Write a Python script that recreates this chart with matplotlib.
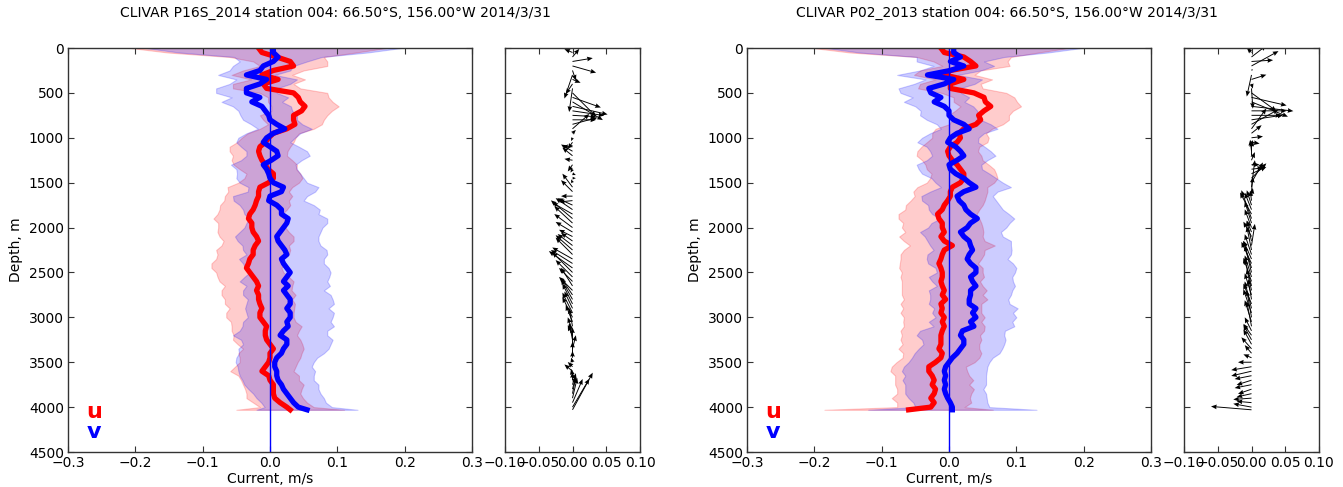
import numpy as np
import matplotlib
matplotlib.use("Agg")
import matplotlib.pyplot as plt

# ---------------- data ----------------
depth = list(range(0, 4001, 50)) + [4030]

titles = ["CLIVAR P16S_2014 station 004: 66.50°S, 156.00°W 2014/3/31",
          "CLIVAR P02_2013 station 004: 66.50°S, 156.00°W 2014/3/31"]

p16_u = [-0.017, -0.012, 0.010, 0.030, 0.035, 0.005, -0.012, 0.012, -0.010, -0.005,
         0.035, 0.042, 0.045, 0.052, 0.047, 0.035, 0.035, 0.037, 0.025, 0.005,
         -0.002, -0.007, -0.015, -0.017, -0.015, -0.012, -0.007, -0.003, 0.005, 0.005,
         -0.002, -0.015, -0.017, -0.017, -0.020, -0.022, -0.025, -0.030, -0.032, -0.027,
         -0.027, -0.025, -0.020, -0.017, -0.022, -0.025, -0.025, -0.030, -0.032, -0.035,
         -0.030, -0.025, -0.020, -0.017, -0.020, -0.017, -0.017, -0.015, -0.012, -0.015,
         -0.015, -0.010, -0.005, -0.007, -0.007, -0.005, 0.000, 0.005, 0.000, 0.000,
         -0.002, -0.007, -0.012, -0.002, 0.000, 0.005, 0.005, 0.005, 0.007, 0.015,
         0.025, 0.030]
p16_v = [0.005, 0.005, 0.012, 0.005, -0.010, -0.015, -0.035, -0.005, -0.015, -0.035,
         -0.035, -0.015, -0.027, -0.012, -0.007, -0.002, 0.000, 0.010, 0.022, 0.005,
         -0.005, -0.010, 0.000, 0.010, 0.012, 0.002, -0.010, -0.005, -0.002, 0.000,
         0.005, 0.020, 0.017, 0.000, -0.002, 0.010, 0.017, 0.017, 0.027, 0.025,
         0.020, 0.015, 0.010, 0.012, 0.017, 0.022, 0.025, 0.017, 0.020, 0.025,
         0.030, 0.025, 0.020, 0.027, 0.020, 0.025, 0.030, 0.030, 0.025, 0.030,
         0.030, 0.025, 0.027, 0.020, 0.015, 0.025, 0.025, 0.020, 0.017, 0.010,
         0.007, 0.007, 0.010, 0.010, 0.012, 0.017, 0.020, 0.025, 0.030, 0.035,
         0.042, 0.055]
p16_u_err = [0.190, 0.140, 0.070, 0.055, 0.050, 0.045, 0.045, 0.040, 0.045, 0.050,
             0.050, 0.045, 0.048, 0.050, 0.045, 0.050, 0.045, 0.040, 0.040, 0.038,
             0.040, 0.042, 0.045, 0.043, 0.040, 0.045, 0.047, 0.042, 0.040, 0.043,
             0.045, 0.048, 0.045, 0.050, 0.048, 0.052, 0.050, 0.048, 0.052, 0.050,
             0.050, 0.053, 0.055, 0.052, 0.050, 0.055, 0.053, 0.050, 0.055, 0.052,
             0.050, 0.053, 0.055, 0.050, 0.052, 0.055, 0.050, 0.052, 0.048, 0.050,
             0.050, 0.048, 0.052, 0.050, 0.047, 0.050, 0.048, 0.045, 0.047, 0.045,
             0.043, 0.045, 0.047, 0.045, 0.043, 0.045, 0.042, 0.040, 0.042, 0.040,
             0.040, 0.080]
p16_v_err = [0.190, 0.140, 0.065, 0.050, 0.045, 0.045, 0.042, 0.045, 0.045, 0.045,
             0.045, 0.042, 0.045, 0.043, 0.040, 0.042, 0.040, 0.038, 0.040, 0.040,
             0.042, 0.040, 0.043, 0.045, 0.047, 0.045, 0.048, 0.045, 0.047, 0.050,
             0.050, 0.052, 0.050, 0.055, 0.052, 0.055, 0.057, 0.055, 0.058, 0.060,
             0.058, 0.060, 0.062, 0.060, 0.058, 0.062, 0.060, 0.063, 0.060, 0.062,
             0.060, 0.063, 0.065, 0.062, 0.060, 0.065, 0.063, 0.065, 0.062, 0.065,
             0.063, 0.065, 0.068, 0.065, 0.070, 0.068, 0.065, 0.067, 0.063, 0.060,
             0.058, 0.055, 0.057, 0.055, 0.053, 0.055, 0.052, 0.050, 0.050, 0.048,
             0.050, 0.075]

p02_u = [-0.012, -0.007, 0.022, 0.032, 0.040, 0.002, -0.007, 0.022, 0.002, 0.002,
         0.037, 0.052, 0.054, 0.062, 0.052, 0.044, 0.047, 0.040, 0.022, 0.015,
         0.017, 0.012, 0.002, -0.002, 0.000, 0.005, 0.012, 0.017, 0.022, 0.022,
         0.017, 0.005, 0.002, 0.002, -0.002, -0.007, -0.010, -0.017, -0.015, -0.010,
         -0.010, -0.007, -0.012, -0.007, 0.005, -0.007, -0.010, -0.012, -0.015, -0.012,
         -0.010, -0.010, -0.012, -0.010, -0.007, -0.010, -0.005, -0.012, -0.010, -0.012,
         -0.007, -0.010, -0.007, -0.010, -0.012, -0.012, -0.012, -0.015, -0.010, -0.012,
         -0.020, -0.030, -0.030, -0.025, -0.022, -0.025, -0.020, -0.022, -0.027, -0.022,
         -0.027, -0.060]
p02_v = [0.007, 0.007, 0.017, 0.002, 0.022, 0.002, -0.032, 0.007, -0.007, -0.030,
         -0.027, -0.012, -0.022, -0.007, 0.000, 0.000, 0.007, 0.022, 0.030, 0.012,
         0.002, -0.002, 0.010, 0.017, 0.022, 0.012, 0.000, 0.002, 0.010, 0.022,
         0.030, 0.040, 0.022, 0.012, 0.015, 0.022, 0.025, 0.032, 0.042, 0.032,
         0.027, 0.017, 0.022, 0.030, 0.032, 0.035, 0.030, 0.027, 0.032, 0.040,
         0.040, 0.032, 0.035, 0.040, 0.032, 0.032, 0.030, 0.030, 0.040, 0.035,
         0.040, 0.032, 0.037, 0.020, 0.017, 0.022, 0.022, 0.017, 0.012, 0.005,
         0.000, -0.005, -0.007, -0.005, -0.007, -0.005, -0.007, -0.005, -0.002, 0.002,
         0.005, 0.005]
p02_u_err = [0.190, 0.140, 0.070, 0.055, 0.050, 0.045, 0.045, 0.042, 0.045, 0.048,
             0.048, 0.045, 0.047, 0.045, 0.043, 0.045, 0.042, 0.040, 0.042, 0.040,
             0.042, 0.045, 0.043, 0.045, 0.048, 0.045, 0.047, 0.050, 0.048, 0.050,
             0.050, 0.052, 0.055, 0.053, 0.055, 0.057, 0.055, 0.058, 0.060, 0.058,
             0.060, 0.058, 0.062, 0.060, 0.063, 0.060, 0.062, 0.060, 0.058, 0.062,
             0.060, 0.062, 0.058, 0.060, 0.063, 0.060, 0.062, 0.060, 0.058, 0.060,
             0.060, 0.058, 0.060, 0.062, 0.058, 0.060, 0.057, 0.060, 0.058, 0.057,
             0.058, 0.055, 0.057, 0.055, 0.058, 0.055, 0.057, 0.055, 0.058, 0.055,
             0.050, 0.125]
p02_v_err = [0.190, 0.140, 0.065, 0.050, 0.045, 0.045, 0.045, 0.042, 0.045, 0.045,
             0.045, 0.042, 0.045, 0.043, 0.042, 0.043, 0.040, 0.040, 0.042, 0.040,
             0.042, 0.045, 0.043, 0.045, 0.047, 0.045, 0.048, 0.047, 0.050, 0.048,
             0.050, 0.052, 0.050, 0.053, 0.055, 0.053, 0.055, 0.057, 0.055, 0.058,
             0.058, 0.060, 0.058, 0.062, 0.060, 0.058, 0.062, 0.060, 0.063, 0.060,
             0.058, 0.062, 0.060, 0.058, 0.062, 0.060, 0.058, 0.060, 0.062, 0.060,
             0.060, 0.062, 0.060, 0.063, 0.065, 0.062, 0.060, 0.062, 0.063, 0.060,
             0.060, 0.062, 0.063, 0.060, 0.062, 0.060, 0.058, 0.060, 0.058, 0.055,
             0.055, 0.125]

profiles = [(p16_u, p16_v, p16_u_err, p16_v_err),
            (p02_u, p02_v, p02_u_err, p02_v_err)]

main_xticks = [-0.3, -0.2, -0.1, 0.0, 0.1, 0.2, 0.3]
side_xticks = [-0.10, -0.05, 0.00, 0.05, 0.10]
depth_ticks = list(range(0, 4501, 500))

# ---------------- figure ----------------
plt.rcParams['font.family'] = ['DejaVu Sans']
plt.rcParams['font.size'] = 10
W, H = 1343, 487
fig = plt.figure(figsize=(W / 100, H / 100), dpi=100)

spine_col = '#333333'


def style(ax):
    ax.tick_params(direction='in', top=True, right=True, length=4,
                   width=0.8, color=spine_col, labelsize=10, pad=3)
    for s in ax.spines.values():
        s.set_color(spine_col)
        s.set_linewidth(1.0)


main_x0 = [68, 747]
side_x0 = [505, 1184]
title_x = [0.25, 0.75]
y0 = (H - 452) / H
hgt = 404 / H

for k in range(2):
    u, v, ue, ve = [np.asarray(a) for a in profiles[k]]
    z = np.asarray(depth)
    ax = fig.add_axes([main_x0[k] / W, y0, 404 / W, hgt])
    ax.fill_betweenx(z, u - ue, u + ue, color='red', alpha=0.2, lw=0.8)
    ax.fill_betweenx(z, v - ve, v + ve, color='blue', alpha=0.2, lw=0.8)
    ax.plot(u, z, color='red', lw=3.8)
    ax.plot(v, z, color='blue', lw=3.8)
    ax.axvline(0, color='blue', lw=1)
    ax.set_xlim(-0.3, 0.3)
    ax.set_ylim(4500, 0)
    ax.set_xticks(main_xticks)
    ax.set_yticks(depth_ticks)
    ax.set_xlabel('Current, m/s', labelpad=1)
    ax.set_ylabel('Depth, m', labelpad=4)
    ax.text(0.045, 0.085, 'u', color='red', fontsize=16, fontweight='bold',
            transform=ax.transAxes, ha='left', va='baseline')
    ax.text(0.045, 0.035, 'v', color='blue', fontsize=16, fontweight='bold',
            transform=ax.transAxes, ha='left', va='baseline')
    style(ax)

    fig.text(title_x[k], 1 - 13 / H, titles[k], fontsize=10,
             ha='center', va='center')

    sx = fig.add_axes([side_x0[k] / W, y0, 135 / W, hgt])
    sx.quiver(np.zeros_like(u), z, u, v, angles='uv', scale_units='x', scale=1,
              width=0.007, headwidth=5, headlength=6, headaxislength=5.5,
              color='black')
    sx.set_xlim(-0.1, 0.1)
    sx.set_ylim(4500, 0)
    sx.set_xticks(side_xticks)
    sx.set_yticks(depth_ticks)
    sx.set_yticklabels([])
    style(sx)

fig.savefig('out.png', dpi=100)
